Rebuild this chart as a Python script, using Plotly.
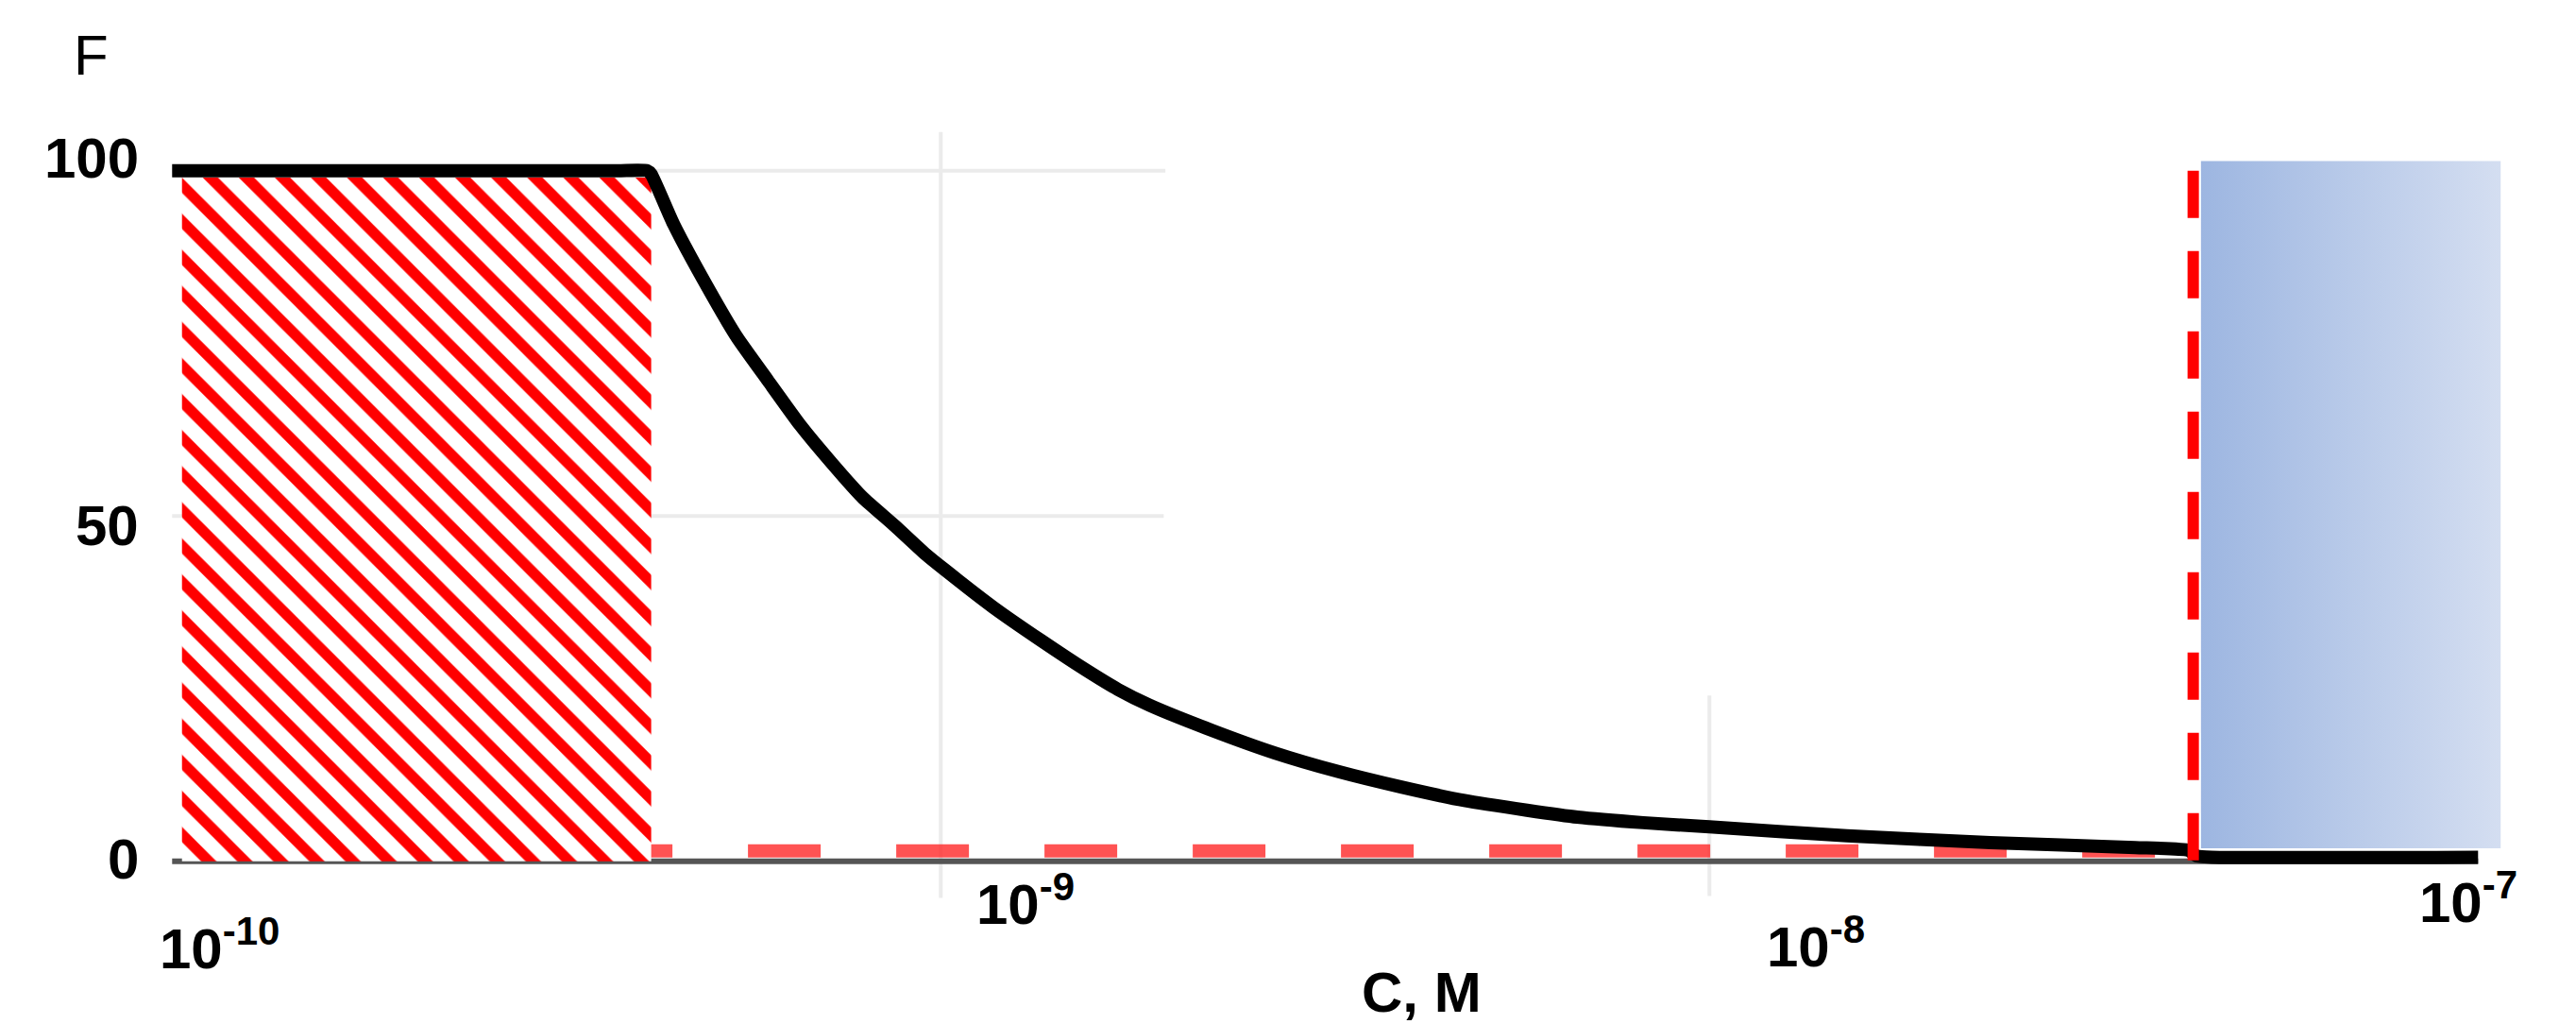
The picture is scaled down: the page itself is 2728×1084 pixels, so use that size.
import plotly.graph_objects as go
import math

# ---------------- data ----------------
conc = [1.0e-10, 2.5e-10, 3.8e-10, 4.15e-10, 4.20e-10, 4.49e-10, 4.94e-10,
        5.43e-10, 5.96e-10, 6.56e-10, 7.21e-10, 7.91e-10, 8.71e-10, 9.55e-10,
        1.01e-9, 1.17e-9, 1.35e-9, 1.55e-9, 1.70e-9, 1.87e-9, 2.25e-9,
        2.72e-9, 3.29e-9, 3.96e-9, 4.80e-9, 5.79e-9, 6.73e-9, 8.2e-9, 1.0e-8,
        1.51e-8, 2.32e-8, 3.58e-8, 4.20e-8, 4.30e-8, 4.50e-8, 1.0e-7]
F_vals = [100, 100, 100, 100, 99.5, 92.3, 83.7, 75.9, 69.6, 63.2, 57.7, 52.7,
          48.6, 44.5, 42.3, 36.8, 32.0, 27.6, 24.9, 22.6, 19.0, 15.7, 13.0,
          10.8, 8.8, 7.4, 6.4, 5.6, 5.0, 3.7, 2.7, 2.0, 1.6, 0.8, 0.6, 0.6]

hatch_x = [1.03e-10, 4.2e-10]     # red hatched region (C range)
hatch_y = [0, 99]
limit_c = 4.26e-8                 # red vertical dashed line
limit_y = [100, 0]
blue_x = [4.36e-8, 1.07e-7]       # blue shaded region
blue_y = [1.9, 101.4]
base_dash_x = [3.6e-10, 4.26e-8]  # red dashed baseline (starts under the hatch)
base_dash_y = 1.5
axis_x = [1.0e-10, 1.0e-7]

grid_v = [(1e-9, -5.3, 105.6), (1e-8, -5.0, 24.0)]
grid_h = [(100, 1.0e-10, 1.96e-9), (50, 1.0e-10, 1.95e-9)]

y_ticks = [100, 50, 0]
y_tick_text = ["100", "50", "0"]
x_ticks = [1e-10, 1e-9, 1e-8, 1e-7]
x_tick_text = ["10<sup>-10</sup>", "10<sup>-9</sup>", "10<sup>-8</sup>", "10<sup>-7</sup>"]

# ---------------- styles ----------------
FONT = "Liberation Sans, Arial, sans-serif"
FS = 60
x_label_shift = [(50, -88), (90, -41), (113, -86), (-10, -39)]
y_label_shift = [13, -10, 2]

fig = go.Figure()

# light gray partial gridlines
for xv, y0, y1 in grid_v:
    fig.add_trace(go.Scatter(x=[xv, xv], y=[y0, y1], mode="lines",
                             line=dict(color="#ebebeb", width=4),
                             hoverinfo="skip", showlegend=False))
for yv, x0, x1 in grid_h:
    fig.add_trace(go.Scatter(x=[x0, x1], y=[yv, yv], mode="lines",
                             line=dict(color="#ebebeb", width=4),
                             hoverinfo="skip", showlegend=False))

# gray x axis line
fig.add_trace(go.Scatter(x=axis_x, y=[0, 0], mode="lines",
                         line=dict(color="#555555", width=6),
                         hoverinfo="skip", showlegend=False))

# red dashed baseline
fig.add_trace(go.Scatter(x=base_dash_x, y=[base_dash_y, base_dash_y], mode="lines",
                         line=dict(color="rgba(255,40,40,0.8)", width=14, dash="77px,80px"),
                         hoverinfo="skip", showlegend=False))

# red hatched region
fig.add_trace(go.Scatter(
    x=[hatch_x[0], hatch_x[1], hatch_x[1], hatch_x[0], hatch_x[0]],
    y=[hatch_y[0], hatch_y[0], hatch_y[1], hatch_y[1], hatch_y[0]],
    mode="lines", fill="toself", line=dict(width=0, color="rgba(0,0,0,0)"),
    fillcolor="white",
    fillpattern=dict(shape="\\", fgcolor="#ff0000", bgcolor="white",
                     fgopacity=1, size=27, solidity=0.42),
    hoverinfo="skip", showlegend=False))

# blue gradient region
fig.add_trace(go.Scatter(
    x=[blue_x[0], blue_x[1], blue_x[1], blue_x[0], blue_x[0]],
    y=[blue_y[0], blue_y[0], blue_y[1], blue_y[1], blue_y[0]],
    mode="lines", fill="toself", line=dict(width=0, color="rgba(0,0,0,0)"),
    fillgradient=dict(type="horizontal",
                      colorscale=[[0, "#9db6e1"], [1, "#d4def1"]]),
    hoverinfo="skip", showlegend=False))

# black curve
fig.add_trace(go.Scatter(x=conc, y=F_vals, mode="lines",
                         line=dict(color="black", width=14, shape="spline", smoothing=0.5),
                         hoverinfo="skip", showlegend=False))

# red vertical dashed line
fig.add_trace(go.Scatter(x=[limit_c, limit_c], y=limit_y, mode="lines",
                         line=dict(color="#ff0000", width=12, dash="50px,35px"),
                         hoverinfo="skip", showlegend=False))

annotations = []
for val, txt, (dx, dy) in zip(x_ticks, x_tick_text, x_label_shift):
    annotations.append(dict(x=math.log10(val), y=0, xref="x", yref="y", text=txt,
                            showarrow=False, xanchor="center", yanchor="middle",
                            xshift=dx, yshift=dy,
                            font=dict(family=FONT, size=FS, color="black", weight="bold")))
for val, txt, dy in zip(y_ticks, y_tick_text, y_label_shift):
    annotations.append(dict(x=0, y=val, xref="paper", yref="y", text=txt,
                            showarrow=False, xanchor="right", yanchor="middle",
                            xshift=-17, yshift=dy,
                            font=dict(family=FONT, size=FS, color="black", weight="bold")))
annotations.append(dict(x=0.536, y=-0.1, xref="paper", yref="paper", text="C, M",
                        showarrow=False, xanchor="center", yanchor="middle",
                        font=dict(family=FONT, size=FS, color="black", weight="bold")))
annotations.append(dict(x=-0.028, y=1.04, xref="paper", yref="paper", text="F",
                        showarrow=False, xanchor="center", yanchor="middle",
                        font=dict(family=FONT, size=FS, color="black")))

fig.update_layout(
    width=2728, height=1084, autosize=False,
    margin=dict(l=166, r=63, t=93, b=121),
    paper_bgcolor="white", plot_bgcolor="white",
    xaxis=dict(type="log", range=[-10.02, -6.95], showgrid=False, zeroline=False,
               showline=False, showticklabels=False, ticks=""),
    yaxis=dict(range=[-7, 112], showgrid=False, zeroline=False,
               showline=False, showticklabels=False, ticks=""),
    annotations=annotations,
)

fig.write_html("out.html", config={"displayModeBar": False},
               post_script="document.body.style.margin='0';")
